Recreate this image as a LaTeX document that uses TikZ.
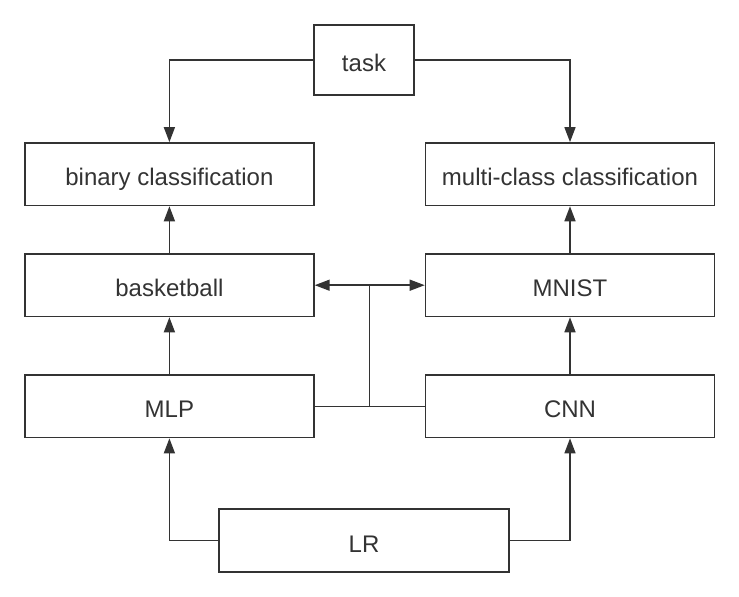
\documentclass[tikz,border=0pt]{standalone}
\usepackage{fontspec}
\setmainfont{Liberation Sans}
\usetikzlibrary{arrows.meta}
\definecolor{ink}{HTML}{333333}
\begin{document}
\begin{tikzpicture}[x=1pt,y=-1pt,
  box/.style={draw=ink,line width=1.6pt,minimum width=289pt,minimum height=62.5pt,inner sep=0pt,
    font=\fontsize{24}{26}\selectfont,text=ink,text height=23pt,text depth=0pt},
  arr/.style={draw=ink,line width=1.5pt,-{Triangle[length=15pt,width=11pt]}},
  ln/.style={draw=ink,line width=1.5pt}]
\useasboundingbox (0,0) rectangle (739,597);
\node[box,minimum width=100pt,minimum height=70pt] (task) at (364,60) {task};
\node[box] (binary) at (169.4,174.2) {binary classification};
\node[box] (multi) at (570,174.2) {multi-class classification};
\node[box] (basket) at (169.4,285.2) {basketball};
\node[box] (mnist) at (570,285.2) {MNIST};
\node[box] (mlp) at (169.4,406.3) {MLP};
\node[box] (cnn) at (570,406.3) {CNN};
\node[box,minimum width=290pt,minimum height=63pt] (lr) at (364,540.5) {LR};
\coordinate (j1) at (369.6,285.2);
\coordinate (j2) at (369.6,406.3);
\draw[arr] (task.west) -| (binary.north);
\draw[arr] (task.east) -| (multi.north);
\draw[arr] (basket.north) -- (binary.south);
\draw[arr] (mnist.north) -- (multi.south);
\draw[arr] (mlp.north) -- (basket.south);
\draw[arr] (cnn.north) -- (mnist.south);
\draw[arr] (lr.west) -| (mlp.south);
\draw[arr] (lr.east) -| (cnn.south);
\draw[ln] (mlp.east) -- (cnn.west);
\draw[ln] (j2) -- (j1);
\draw[arr] (j1) -- (basket.east);
\draw[arr] (j1) -- (mnist.west);
\end{tikzpicture}
\end{document}
